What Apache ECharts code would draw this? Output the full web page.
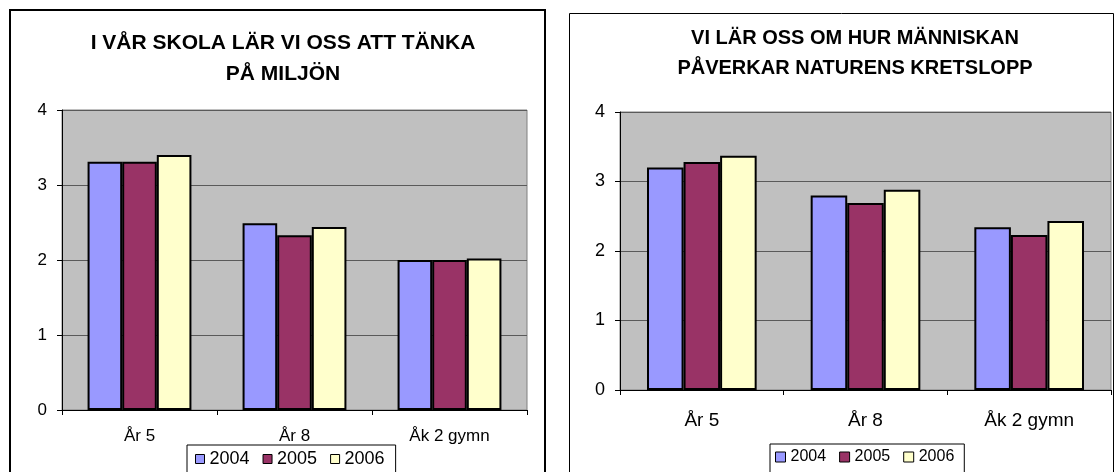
<!DOCTYPE html>
<html>
<head>
<meta charset="utf-8">
<title>Miljö</title>
<script src="https://cdn.jsdelivr.net/npm/echarts@6.0.0/dist/echarts.min.js"></script>
<style>
html,body{margin:0;padding:0;background:#fff;}
#chart{width:1116px;height:472px;}
</style>
</head>
<body>
<div id="chart"></div>
<script>
// categories and years
var categories = ['År 5', 'År 8', 'Åk 2 gymn'];
var years = ['2004', '2005', '2006'];
var yTicks = [0, 1, 2, 3, 4];

// left chart: I VÅR SKOLA LÄR VI OSS ATT TÄNKA PÅ MILJÖN
var miljo2004 = [3.31, 2.49, 2.00];
var miljo2005 = [3.31, 2.33, 2.00];
var miljo2006 = [3.40, 2.44, 2.02];

// right chart: VI LÄR OSS OM HUR MÄNNISKAN PÅVERKAR NATURENS KRETSLOPP
var kretslopp2004 = [3.20, 2.80, 2.34];
var kretslopp2005 = [3.28, 2.69, 2.23];
var kretslopp2006 = [3.37, 2.88, 2.43];

var colors = ['#9999FF', '#993366', '#FFFFCC'];
var font = '"Liberation Sans", Arial, sans-serif';

function xAxis(grid, size, margin){
    return {
        type: 'category',
        gridIndex: grid,
        data: categories,
        axisLine: {lineStyle: {color: '#000', width: 1}},
        axisTick: {show: true, length: 5, lineStyle: {color: '#000'}},
        axisLabel: {color: '#000', fontFamily: font, fontSize: size, margin: margin}
    };
}

function yAxis(grid, size){
    return {
        type: 'value',
        gridIndex: grid,
        min: yTicks[0],
        max: yTicks[yTicks.length - 1],
        interval: 1,
        axisLine: {show: true, lineStyle: {color: '#000', width: 1}},
        axisTick: {show: true, length: 5, lineStyle: {color: '#000'}},
        axisLabel: {color: '#000', fontFamily: font, fontSize: size, margin: 15},
        splitLine: {show: true, lineStyle: {color: '#5a5a5a', width: 1}}
    };
}

function bar(name, data, idx, grid){
    return {
        name: name,
        type: 'bar',
        xAxisIndex: grid,
        yAxisIndex: grid,
        data: data,
        barGap: '0%',
        barCategoryGap: '33%',
        itemStyle: {color: colors[idx], borderColor: '#000', borderWidth: 2}
    };
}

var chart = echarts.init(document.getElementById('chart'), null, {renderer: 'canvas'});

var option = {
    animation: false,
    backgroundColor: '#fff',
    graphic: [
        {type: 'rect', shape: {x: 10, y: 10, width: 535, height: 480},
         style: {fill: 'none', stroke: '#000', lineWidth: 2}, z: 100},
        {type: 'rect', shape: {x: 569.5, y: 13.5, width: 544, height: 480},
         style: {fill: 'none', stroke: '#000', lineWidth: 1}, z: 100}
    ],
    title: [
        {
            text: 'I VÅR SKOLA LÄR VI OSS ATT TÄNKA\nPÅ MILJÖN',
            left: 278, top: 23, textAlign: 'center',
            textStyle: {fontFamily: font, fontWeight: 'bold', fontSize: 21, lineHeight: 31, color: '#000'}
        },
        {
            text: 'VI LÄR OSS OM HUR MÄNNISKAN\nPÅVERKAR NATURENS KRETSLOPP',
            left: 850, top: 18, textAlign: 'center',
            textStyle: {fontFamily: font, fontWeight: 'bold', fontSize: 20, lineHeight: 30, color: '#000'}
        }
    ],
    legend: [
        {
            data: years,
            left: 187, top: 445,
            padding: [5, 11, 20, 8],
            itemGap: 13,
            itemWidth: 9, itemHeight: 9,
            icon: 'rect',
            borderColor: '#000', borderWidth: 1,
            itemStyle: {borderColor: '#000', borderWidth: 1},
            textStyle: {fontFamily: font, fontSize: 18, color: '#000'}
        },
        {
            data: years,
            left: 770, top: 444,
            padding: [5, 10, 20, 5],
            itemGap: 13,
            itemWidth: 10, itemHeight: 10,
            icon: 'rect',
            borderColor: '#000', borderWidth: 1,
            itemStyle: {borderColor: '#000', borderWidth: 1},
            textStyle: {fontFamily: font, fontSize: 16, color: '#000'}
        }
    ],
    grid: [
        {left: 62, top: 110, width: 465, height: 300, show: true,
         backgroundColor: '#C0C0C0', borderColor: '#808080', borderWidth: 1},
        {left: 620, top: 112, width: 491, height: 278, show: true,
         backgroundColor: '#C0C0C0', borderColor: '#808080', borderWidth: 1}
    ],
    xAxis: [xAxis(0, 17, 18), xAxis(1, 19, 21)],
    yAxis: [yAxis(0, 17), yAxis(1, 18)],
    series: [
        bar(years[0], miljo2004, 0, 0),
        bar(years[1], miljo2005, 1, 0),
        bar(years[2], miljo2006, 2, 0),
        bar(years[0], kretslopp2004, 0, 1),
        bar(years[1], kretslopp2005, 1, 1),
        bar(years[2], kretslopp2006, 2, 1)
    ]
};

chart.setOption(option);
window.onresize = chart.resize;
</script>
</body>
</html>
